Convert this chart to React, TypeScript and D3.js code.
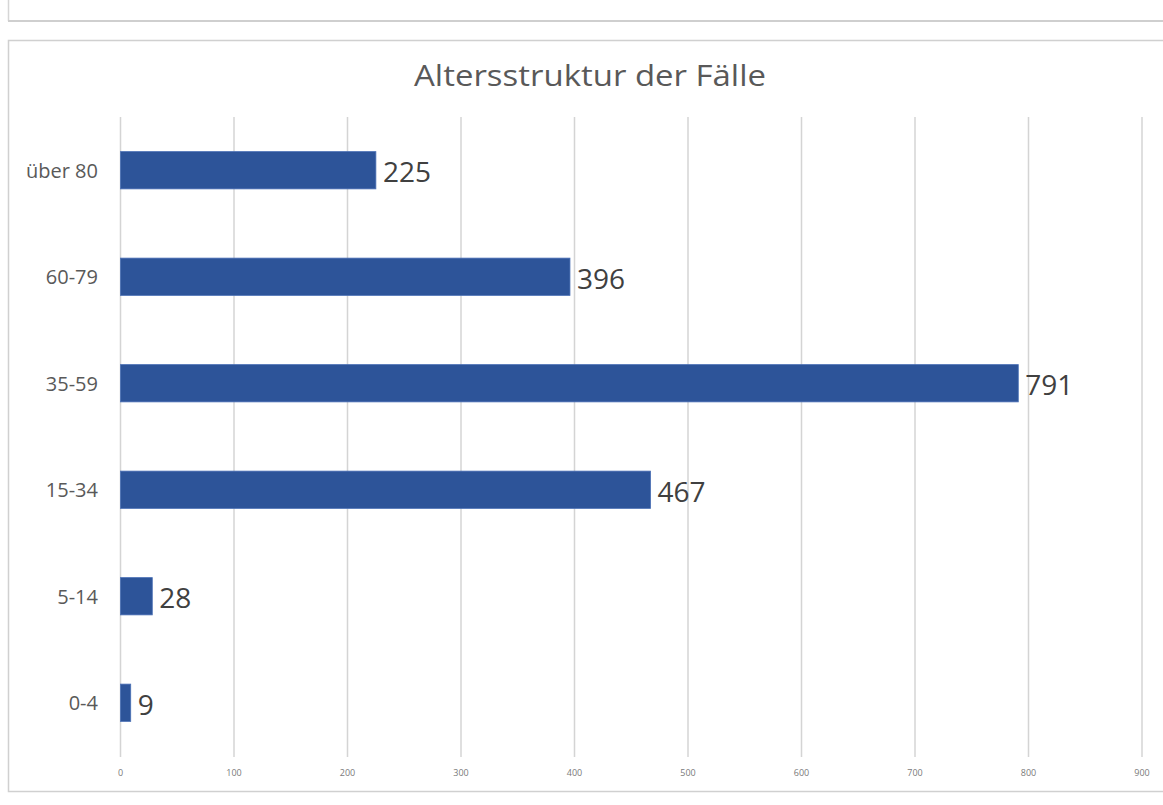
import React from "react";
import * as d3 from "d3";

const categories = ["über 80", "60-79", "35-59", "15-34", "5-14", "0-4"];
const values = [225, 396, 791, 467, 28, 9];
const ticks = [0, 100, 200, 300, 400, 500, 600, 700, 800, 900];
const title = "Altersstruktur der Fälle";

export default function App() {
  const W = 1163, H = 805;
  const x = d3.scaleLinear().domain([0, 900]).range([120.5, 1142]);
  const y = d3.scaleBand().domain(categories).range([117, 756]).paddingInner(0.65).paddingOuter(0.325);
  const font = "'Open Sans', 'Noto Sans', sans-serif";
  return (
    <svg width={W} height={H} style={{ position: "absolute", left: 0, top: 0, background: "#fff" }}>
      <rect x={0} y={0} width={W} height={H} fill="#fff" />
      {/* previous panel bottom */}
      <line x1={8.5} y1={0} x2={8.5} y2={21} stroke="#d6d6d6" strokeWidth={1.5} />
      <line x1={8} y1={21} x2={W} y2={21} stroke="#cfcfcf" strokeWidth={2} />
      {/* chart box */}
      <rect x={8.5} y={40.5} width={W + 2} height={751} fill="#fff" stroke="#d0d0d0" strokeWidth={1.5} />
      <text x={590} y={86} textAnchor="middle" fontSize={30} fill="#595959" fontFamily={font} textLength={352} lengthAdjust="spacingAndGlyphs">
        {title}
      </text>
      {ticks.map((t) => (
        <g key={t}>
          <line x1={x(t)} x2={x(t)} y1={117} y2={757} stroke="#d4d4d4" strokeWidth={1.5} />
          <text x={x(t)} y={776} textAnchor="middle" fontSize={9} fill="#7a7a7a" fontFamily={font}>
            {t}
          </text>
        </g>
      ))}
      {categories.map((c, i) => {
        const by = y(c)!;
        const bh = y.bandwidth();
        return (
          <g key={c}>
            <rect x={x(0)} y={by} width={x(values[i]) - x(0)} height={bh} fill="#2D5499" stroke="#4a70b5" strokeWidth={0.8} />
            <text x={x(values[i]) + 7} y={by + bh / 2 + 1} dominantBaseline="central" fontSize={28} fill="#404040" fontFamily={font}>
              {values[i]}
            </text>
            <text x={98} y={by + bh / 2} dominantBaseline="central" textAnchor="end" fontSize={20} fill="#595959" fontFamily={font}>
              {c}
            </text>
          </g>
        );
      })}
    </svg>
  );
}
